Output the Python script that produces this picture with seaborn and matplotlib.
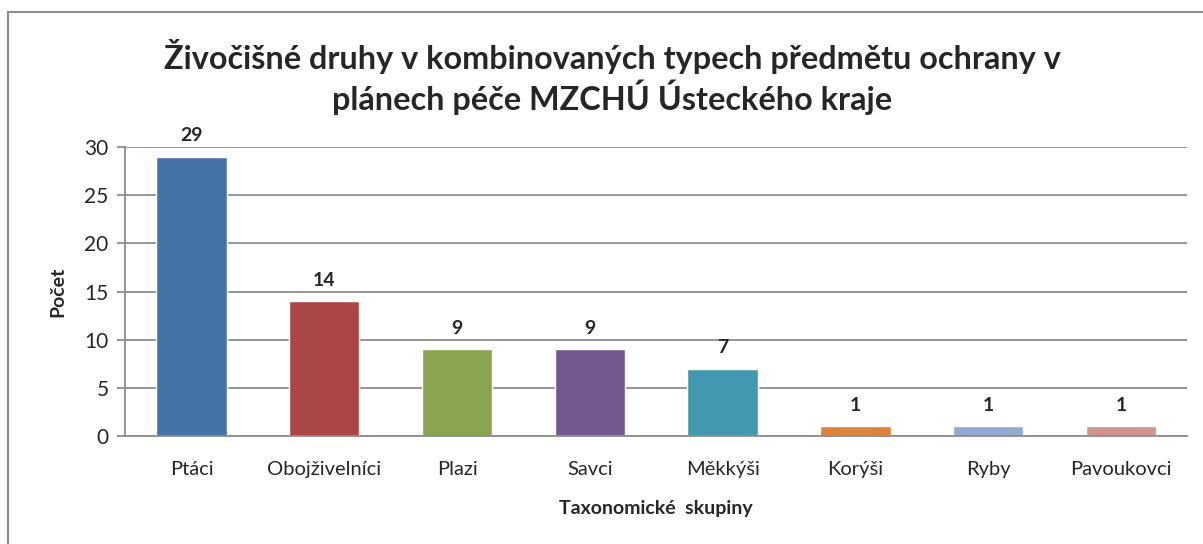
import matplotlib
matplotlib.use('Agg')
import matplotlib.pyplot as plt
import matplotlib.patches as mpatches
import numpy as np
import pandas as pd
import seaborn as sns

# data
skupiny = ['Ptáci', 'Obojživelníci', 'Plazi', 'Savci', 'Měkkýši', 'Korýši', 'Ryby', 'Pavoukovci']
pocet = [29, 14, 9, 9, 7, 1, 1, 1]
barvy = ['#4572A7', '#AA4643', '#89A54E', '#71588F', '#4198AF', '#DB843D', '#93A9CF', '#D19392']

df = pd.DataFrame({'skupina': skupiny, 'pocet': pocet})

sns.set_style('white')
plt.rcParams['font.family'] = ['Lato', 'DejaVu Sans']

fig = plt.figure(figsize=(12.03, 5.44), dpi=100)
ax = fig.add_axes([0.104, 0.1985, 0.883, 0.5313])

sns.barplot(data=df, x='skupina', y='pocet', hue='skupina', palette=barvy,
            width=0.53, legend=False, saturation=1, ax=ax)

ax.set_ylim(0, 30)
ax.set_yticks(np.arange(0, 31, 5))
ax.set_xlim(-0.5, len(skupiny) - 0.5)
ax.yaxis.grid(True, color='#8c8c8c', linewidth=1.3)
ax.set_axisbelow(True)
for s in ['top', 'right']:
    ax.spines[s].set_visible(False)
for s in ['left', 'bottom']:
    ax.spines[s].set_color('#8c8c8c')
    ax.spines[s].set_linewidth(1.3)

# ticks at category boundaries like Excel
ax.set_xticks(np.arange(-0.5, len(skupiny), 1), minor=True)
ax.tick_params(axis='x', which='major', length=0, pad=18, labelsize=14.5)
ax.tick_params(axis='x', which='minor', length=6, color='#8c8c8c', width=1.3)
ax.tick_params(axis='y', length=6, color='#8c8c8c', width=1.3, labelsize=15, pad=6, left=True)

for i, v in enumerate(pocet):
    ax.annotate(str(v), (i, v), xytext=(0, 9), textcoords='offset points',
                ha='center', va='bottom', fontsize=14, fontweight='bold')

ax.set_xlabel('Taxonomické  skupiny', fontsize=14, fontweight='bold', labelpad=16)
ax.set_ylabel('Počet', fontsize=14, fontweight='bold', labelpad=13)

fig.suptitle('Živočišné druhy v kombinovaných typech předmětu ochrany v\nplánech péče MZCHÚ Ústeckého kraje',
             x=0.509, y=0.929, fontsize=23.3, fontweight='bold', linespacing=1.2)

# outer chart border
fig.patches.append(mpatches.Rectangle((8 / 1203, -0.1), 1.2, 1.1 - 12 / 544, transform=fig.transFigure,
                                      fill=False, edgecolor='#8c8c8c', linewidth=1.5))

fig.savefig('out.png', dpi=100)
